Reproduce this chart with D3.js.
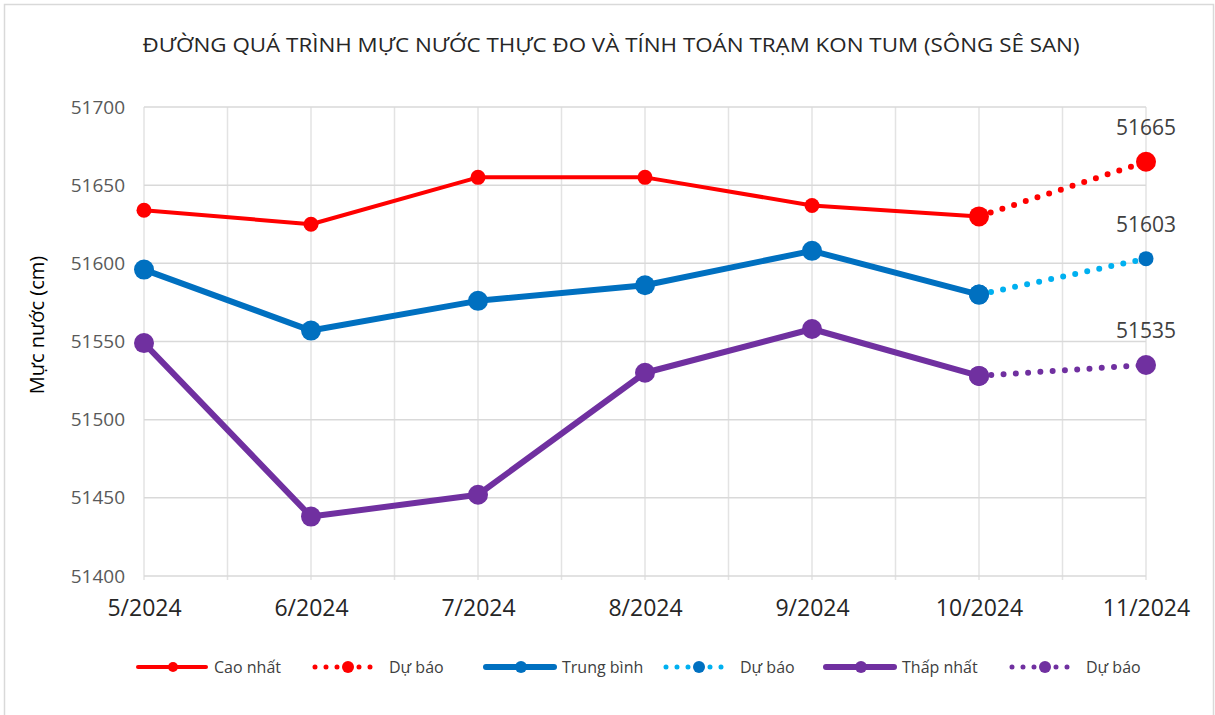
<!DOCTYPE html>
<html><head><meta charset="utf-8">
<script src="https://cdn.jsdelivr.net/npm/d3@7"></script>
<style>body{margin:0;background:#fff}svg{display:block;font-family:"Open Sans",sans-serif}</style>
</head><body><svg id="c" width="1215" height="715"></svg>
<script>
const months = ["5/2024","6/2024","7/2024","8/2024","9/2024","10/2024","11/2024"];
const caoNhat = [51634, 51625, 51655, 51655, 51637, 51630];
const caoNhatDuBao = [null, null, null, null, null, 51630, 51665];
const trungBinh = [51596, 51557, 51576, 51586, 51608, 51580];
const trungBinhDuBao = [null, null, null, null, null, 51580, 51603];
const thapNhat = [51549, 51438, 51452, 51530, 51558, 51528];
const thapNhatDuBao = [null, null, null, null, null, 51528, 51535];
const yTicks = [51400, 51450, 51500, 51550, 51600, 51650, 51700];
const title = "ĐƯỜNG QUÁ TRÌNH MỰC NƯỚC THỰC ĐO VÀ TÍNH TOÁN TRẠM KON TUM (SÔNG SÊ SAN)";
const yTitle = "Mực nước (cm)";
const legendLabels = ["Cao nhất","Dự báo","Trung bình","Dự báo","Thấp nhất","Dự báo"];

const svg = d3.select("#c");
svg.append("rect").attr("x",4.5).attr("y",4.5).attr("width",1209).attr("height",720)
  .attr("fill","#fff").attr("stroke","#d9d9d9").attr("stroke-width",1.5);

const x = d3.scalePoint().domain(months).range([144,1146]);
const y = d3.scaleLinear().domain([51400,51700]).range([576,107]);

// title
svg.append("text").attr("x",611).attr("y",52).attr("text-anchor","middle")
  .attr("font-size",20).attr("fill","#262626").attr("textLength",937).attr("lengthAdjust","spacingAndGlyphs").text(title);

// gridlines
const step = (x(months[1]) - x(months[0]))/2;
const gx = d3.range(0, months.length*2-1).map(i => x(months[0]) + i*step);
svg.append("g").selectAll("line").data(gx).join("line")
  .attr("x1",d=>d).attr("x2",d=>d).attr("y1",y(51700)).attr("y2",y(51400)+4)
  .attr("stroke","#e3e3e3").attr("stroke-width",1.5);
svg.append("g").selectAll("line").data(yTicks).join("line")
  .attr("x1",x(months[0])).attr("x2",x(months[months.length-1])).attr("y1",d=>y(d)).attr("y2",d=>y(d))
  .attr("stroke","#d9d9d9").attr("stroke-width",1.5);

// y axis labels
const yAxis = d3.axisLeft(y).tickValues(yTicks).tickSize(0).tickPadding(19).tickFormat(d3.format("d"));
const ga = svg.append("g").attr("transform",`translate(${x(months[0])},0)`).call(yAxis);
ga.select(".domain").remove();
ga.selectAll("text").attr("font-size",19).attr("fill","#595959").attr("font-family","Open Sans");

// x axis labels
const xAxis = d3.axisBottom(x).tickSize(0).tickPadding(24);
const gxa = svg.append("g").attr("transform",`translate(0,${y(51400)})`).call(xAxis);
gxa.select(".domain").remove();
gxa.selectAll("text").attr("font-size",23).attr("fill","#262626").attr("font-family","Open Sans");

// y title
svg.append("text").attr("transform","translate(44,325) rotate(-90)").attr("text-anchor","middle")
  .attr("font-size",20).attr("fill","#000").text(yTitle);

const series = [
  {data:caoNhat, color:"#FF0000", w:4, r:7.5, dash:null},
  {data:trungBinh, color:"#0070C0", w:6, r:10, dash:null},
  {data:thapNhat, color:"#7030A0", w:6, r:10, dash:null},
  {data:caoNhatDuBao, color:"#FF0000", w:6, r:10, dash:"0 12.3", mcolor:"#FF0000", mr:[10,10]},
  {data:trungBinhDuBao, color:"#00B0F0", w:6, r:7.5, dash:"0 12.3", mcolor:"#0070C0", mr:[10,7.5]},
  {data:thapNhatDuBao, color:"#7030A0", w:6, r:10, dash:"0 12.3", mcolor:"#7030A0", mr:[10,10]},
];
const line = d3.line().defined(d=>d.v!=null).x(d=>x(d.m)).y(d=>y(d.v));
series.forEach(s=>{
  const pts = s.data.map((v,i)=>({m:months[i],v}));
  const p = svg.append("path").datum(pts).attr("d",line).attr("fill","none")
    .attr("stroke",s.color).attr("stroke-width",s.w).attr("stroke-linecap","round").attr("stroke-linejoin","round");
  if(s.dash) p.attr("stroke-dasharray",s.dash);
  const valid = pts.filter(d=>d.v!=null);
  svg.append("g").selectAll("circle").data(valid).join("circle")
    .attr("cx",d=>x(d.m)).attr("cy",d=>y(d.v))
    .attr("r",(d,i)=> s.mr ? s.mr[i] : s.r)
    .attr("fill",s.mcolor||s.color);
  if(s.dash){
    const last = valid[valid.length-1];
    svg.append("text").attr("x",x(last.m)).attr("y",y(last.v)-27).attr("text-anchor","middle")
      .attr("font-size",21).attr("fill","#404040").text(d3.format("d")(last.v));
  }
});

// legend
const legend = [
  {x:138, color:"#FF0000", w:4, dash:null, mc:"#FF0000", mr:5},
  {x:313, color:"#FF0000", w:5, dash:"0 11", mc:"#FF0000", mr:6},
  {x:486, color:"#0070C0", w:6, dash:null, mc:"#0070C0", mr:6},
  {x:664, color:"#00B0F0", w:5, dash:"0 11", mc:"#0070C0", mr:6},
  {x:826, color:"#7030A0", w:6, dash:null, mc:"#7030A0", mr:6},
  {x:1010, color:"#7030A0", w:5, dash:"0 11", mc:"#7030A0", mr:6},
];
const ly = 667;
legend.forEach((l,i)=>{
  const g = svg.append("g");
  const ln = g.append("line").attr("x1",l.x+(l.dash?2:0)).attr("x2",l.x+68).attr("y1",ly).attr("y2",ly)
    .attr("stroke",l.color).attr("stroke-width",l.w).attr("stroke-linecap","round");
  if(l.dash) ln.attr("stroke-dasharray",l.dash);
  g.append("circle").attr("cx",l.x+35).attr("cy",ly).attr("r",l.mr).attr("fill",l.mc);
  g.append("text").attr("x",l.x+76).attr("y",ly+6).attr("font-size",16).attr("fill","#404040").text(legendLabels[i]);
});
</script></body></html>
